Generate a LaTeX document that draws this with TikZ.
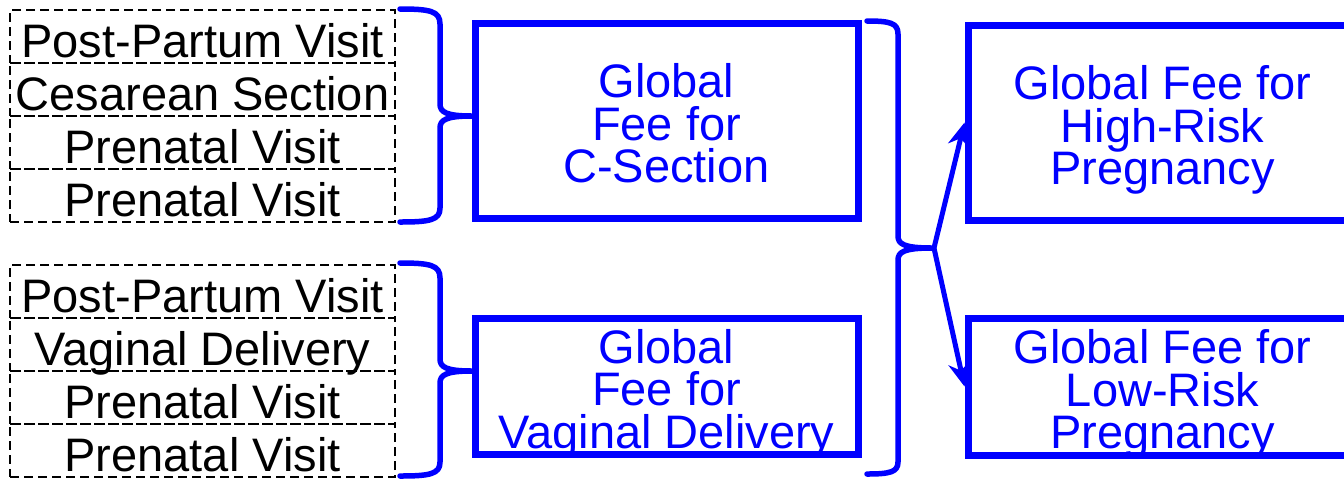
\documentclass[tikz,border=0pt]{standalone}
\usepackage{fontspec}
\setmainfont{Liberation Sans}
\usetikzlibrary{arrows.meta}
\definecolor{fblue}{RGB}{0,0,255}
\newcommand\diagfont{\fontsize{23.5pt}{21.25pt}\selectfont\setlength{\lineskiplimit}{-100pt}}
\begin{document}
\begin{tikzpicture}[x=0.5pt,y=-0.5pt,
 txt/.style={font={\diagfont}},
 row/.style={txt, draw=black, line width=1.2pt, dash pattern=on 4.5pt off 2.5pt,
   minimum width=192.5pt, minimum height=26.5pt, inner sep=0pt,
   text height=22pt, text depth=1.5pt},
 fee/.style={txt, draw=fblue, text=fblue, line width=3.5pt, align=center,
   inner sep=0pt, text height=63.5pt, text depth=1.5pt, minimum width=191.5pt},
 brace/.style={draw=fblue, line width=2.75pt, line cap=round, line join=round},
 arr/.style={draw=fblue, line width=2.5pt, -{Stealth[length=12pt,width=11pt]}}]
\useasboundingbox (0,0) rectangle (1344,479);
\clip (0,0) rectangle (1344,479);
% dashed rows, top group
\node[row] (a1) at (202.5,36.5) {Post-Partum Visit};
\node[row] (a2) at (202.5,89.5) {Cesarean Section};
\node[row] (a3) at (202.5,142.5) {Prenatal Visit};
\node[row] (a4) at (202.5,195.5) {Prenatal Visit};
% dashed rows, lower group
\node[row] (b1) at (202.5,291.5) {Post-Partum Visit};
\node[row] (b2) at (202.5,344.5) {Vaginal Delivery};
\node[row] (b3) at (202.5,397.5) {Prenatal Visit};
\node[row] (b4) at (202.5,450.5) {Prenatal Visit};
% fee boxes
\node[fee, minimum height=97.5pt] (cs) at (666.5,120.5) {Global\\Fee for\\C-Section};
\node[fee, minimum height=68pt] (vd) at (666.5,386) {Global\\Fee for\\Vaginal Delivery};
\node[fee, minimum width=194.5pt, minimum height=97.5pt] (hr) at (1162.5,122.5) {Global Fee for\\High-Risk\\Pregnancy};
\node[fee, minimum width=194.5pt, minimum height=68.5pt] (lr) at (1162.5,386.5) {Global Fee for\\Low-Risk\\Pregnancy};
% braces
\draw[brace] (400,9) .. controls (430,9) and (440,11) .. (440,24) -- (440,104)
  .. controls (440,112) and (446,116) .. (472,116)
  .. controls (446,116) and (440,120) .. (440,128) -- (440,208)
  .. controls (440,220) and (430,222) .. (400,222);
\draw[brace] (400,263) .. controls (430,263) and (440,265) .. (440,278) -- (440,359)
  .. controls (440,367) and (446,371) .. (472,371)
  .. controls (446,371) and (440,375) .. (440,383) -- (440,462)
  .. controls (440,474) and (430,476) .. (400,476);
\draw[brace] (867,21) .. controls (890,21) and (898,23) .. (898,34) -- (898,236)
  .. controls (898,244) and (904,248) .. (932,248)
  .. controls (904,248) and (898,252) .. (898,260) -- (898,462)
  .. controls (898,472) and (890,474) .. (867,474);
\coordinate (rt) at (934,248);
\draw[arr] (rt) -- (hr.west);
\draw[arr] (rt) -- (lr.west);
\end{tikzpicture}
\end{document}
